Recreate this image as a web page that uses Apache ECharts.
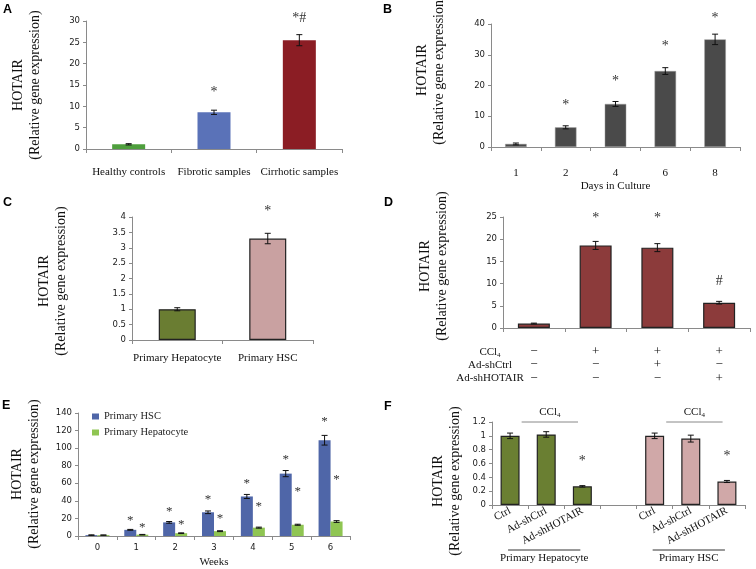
<!DOCTYPE html>
<html><head><meta charset="utf-8">
<script src="https://cdn.jsdelivr.net/npm/echarts@6/dist/echarts.min.js"></script>
<style>html,body{margin:0;padding:0;background:#fff}#c{width:756px;height:569px}</style>
</head><body><div id="c"></div>
<script>
// ---------- Panel A ----------
const catA = ['Healthy controls', 'Fibrotic samples', 'Cirrhotic samples'];
const valA = [1.1, 8.6, 25.5];
const errA = [0.15, 0.5, 1.3];
const sigA = ['', '*', '*#'];
const sigPosA = [null, 13.3, 30.6];
// ---------- Panel B ----------
const catB = ['1', '2', '4', '6', '8'];
const valB = [1.0, 6.4, 14.0, 24.7, 35.0];
const errB = [0.3, 0.5, 0.8, 1.1, 1.7];
const sigB = ['', '*', '*', '*', '*'];
const sigPosB = [null, 13.7, 21.5, 32.8, 41.9];
// ---------- Panel C ----------
const catC = ['Primary Hepatocyte', 'Primary HSC'];
const valC = [1.0, 3.3];
const errC = [0.05, 0.17];
const sigC = ['', '*'];
const sigPosC = [null, 4.2];
// ---------- Panel D ----------
const valD = [1.0, 18.6, 18.1, 5.7];
const errD = [0.1, 0.9, 0.9, 0.3];
const sigD = ['', '*', '*', '#'];
const sigPosD = [null, 24.7, 24.7, 10.4];
const rowCCl4 = ['−', '+', '+', '+'];
const rowShCtrl = ['−', '−', '+', '−'];
const rowShHOTAIR = ['−', '−', '−', '+'];
// ---------- Panel E ----------
const catE = ['0', '1', '2', '3', '4', '5', '6'];
const valEHSC = [1.0, 7.0, 15.5, 27.0, 45.0, 71.0, 109.0];
const errEHSC = [0.3, 0.5, 1.0, 1.5, 2.3, 3.5, 5.5];
const valEHep = [1.0, 1.5, 3.2, 5.5, 9.5, 12.8, 16.5];
const errEHep = [0.2, 0.3, 0.4, 0.5, 0.6, 0.6, 1.0];
const sigPosEHSC = [null, 17, 27.5, 41.5, 60, 86.5, 130.5];
const sigPosEHep = [null, 10, 13.5, 20, 33, 50, 64];
// ---------- Panel F ----------
const catF = ['Ctrl', 'Ad-shCtrl', 'Ad-shHOTAIR', '', 'Ctrl', 'Ad-shCtrl', 'Ad-shHOTAIR'];
const valFHep = [1.0, 1.02, 0.27];
const errFHep = [0.04, 0.04, 0.01];
const valFHSC = [1.0, 0.96, 0.34];
const errFHSC = [0.04, 0.05, 0.015];
const sigPosFHep = [null, null, 0.63];
const sigPosFHSC = [null, null, 0.70];

const SERIF = '"Liberation Serif", "Times New Roman", serif';
const SANS = '"DejaVu Sans", Verdana, sans-serif';
const AXC = '#8a8a8a';

const chart = echarts.init(document.getElementById('c'), null, {renderer: 'canvas'});

function xAx(gi, data, extra) {
  return Object.assign({
    type: 'category', gridIndex: gi, data: data,
    axisLine: {lineStyle: {color: AXC}},
    axisTick: {show: true, length: 4, lineStyle: {color: AXC}},
    axisLabel: {fontFamily: SERIF, fontSize: 11, color: '#111', margin: 14, interval: 0},
    splitLine: {show: false}
  }, extra || {});
}
function yAx(gi, max, interval) {
  return {
    type: 'value', gridIndex: gi, min: 0, max: max, interval: interval,
    axisLine: {show: true, lineStyle: {color: AXC}},
    axisTick: {show: true, length: 3, lineStyle: {color: AXC}},
    splitLine: {show: false},
    axisLabel: {fontFamily: SANS, fontSize: 8.5, color: '#1a1a1a', margin: 6}
  };
}
function colored(vals, colors) {
  return vals.map((v, i) => ({value: v, itemStyle: {color: colors[i]}}));
}
function errSeries(gi, vals, errs, offset, startIdx) {
  startIdx = startIdx || 0;
  return {
    type: 'custom', xAxisIndex: gi, yAxisIndex: gi, z: 5, silent: true,
    data: vals.map((v, i) => [i + startIdx, v, errs[i]]),
    renderItem: function (params, api) {
      const i = api.value(0), v = api.value(1), e = api.value(2);
      const top = api.coord([i, v + e]);
      const bot = api.coord([i, v - e]);
      const x = top[0] + offset;
      const cap = 3;
      const st = {stroke: '#111', lineWidth: 1};
      return {type: 'group', children: [
        {type: 'line', shape: {x1: x, y1: top[1], x2: x, y2: bot[1]}, style: st},
        {type: 'line', shape: {x1: x - cap, y1: top[1], x2: x + cap, y2: top[1]}, style: st},
        {type: 'line', shape: {x1: x - cap, y1: bot[1], x2: x + cap, y2: bot[1]}, style: st}
      ]};
    }
  };
}
function sigSeries(gi, pos, texts, offset, fontSize, startIdx) {
  startIdx = startIdx || 0;
  const data = [];
  pos.forEach((p, i) => { if (p != null) data.push([i + startIdx, p, i]); });
  return {
    type: 'custom', xAxisIndex: gi, yAxisIndex: gi, z: 6, silent: true, clip: false,
    data: data,
    renderItem: function (params, api) {
      const c = api.coord([api.value(0), api.value(1)]);
      const t = texts[api.value(2)];
      return {type: 'text', x: c[0] + offset, y: c[1], style: {
        text: t, font: fontSize + 'px ' + SERIF, fill: '#333',
        align: 'center', verticalAlign: 'middle', textAlign: 'center', textVerticalAlign: 'middle'
      }};
    }
  };
}
function yTitle(x, y) {
  return {type: 'text', x: x, y: y, rotation: Math.PI / 2, silent: true, style: {
    text: 'HOTAIR\n(Relative gene expression)', font: '14px ' + SERIF, lineHeight: 17, fill: '#111',
    align: 'center', verticalAlign: 'middle', textAlign: 'center', textVerticalAlign: 'middle'
  }};
}
function letter(t, x, y) {
  return {type: 'text', x: x, y: y, silent: true, style: {
    text: t, font: 'bold 12.5px "Liberation Sans", Arial, sans-serif', fill: '#000'
  }};
}

const starsE = sigPosEHSC.map(p => '*');
const starsF = ['', '', '*'];

const option = {
  animation: false,
  backgroundColor: '#fff',
  legend: {
    data: ['Primary HSC', 'Primary Hepatocyte'], orient: 'vertical', left: 87, top: 406,
    itemWidth: 7, itemHeight: 6, itemGap: 5, icon: 'rect',
    textStyle: {fontFamily: SERIF, fontSize: 10.5, color: '#222'}
  },
  grid: [
    {left: 86, top: 21, width: 256, height: 128},
    {left: 491, top: 24, width: 249, height: 123},
    {left: 132, top: 217, width: 181, height: 123},
    {left: 503, top: 217, width: 247, height: 111},
    {left: 78, top: 413, width: 272, height: 125},
    {left: 492, top: 422, width: 253, height: 83}
  ],
  xAxis: [
    xAx(0, catA, {axisLabel: {fontFamily: SERIF, fontSize: 11, color: '#111', margin: 18, interval: 0}}),
    xAx(1, catB, {name: 'Days in Culture', nameLocation: 'middle', nameGap: 34,
      nameTextStyle: {fontFamily: SERIF, fontSize: 11, color: '#111'},
      axisLabel: {fontFamily: SERIF, fontSize: 11, color: '#111', margin: 21, interval: 0}}),
    xAx(2, catC, {axisLabel: {fontFamily: SERIF, fontSize: 11, color: '#111', margin: 13, interval: 0}}),
    xAx(3, rowCCl4.map((s, i) => String(i)), {axisLabel: {
      fontFamily: SERIF, fontSize: 13, color: '#111', margin: 17, interval: 0, lineHeight: 13.3,
      formatter: (v, i) => rowCCl4[i] + '\n' + rowShCtrl[i] + '\n' + rowShHOTAIR[i]}}),
    xAx(4, catE, {name: 'Weeks', nameLocation: 'middle', nameGap: 21,
      nameTextStyle: {fontFamily: SERIF, fontSize: 11, color: '#111'},
      axisLabel: {fontFamily: SANS, fontSize: 8.5, color: '#1a1a1a', margin: 7, interval: 0}}),
    xAx(5, catF, {axisLabel: {fontFamily: SERIF, fontSize: 11, color: '#111', margin: 5, interval: 0, rotate: 28}})
  ],
  yAxis: [
    yAx(0, 30, 5), yAx(1, 40, 10), yAx(2, 4, 0.5), yAx(3, 25, 5), yAx(4, 140, 20), yAx(5, 1.2, 0.2)
  ],
  series: [
    // A
    {type: 'bar', xAxisIndex: 0, yAxisIndex: 0, barWidth: 33,
      data: colored(valA, ['#4e9f3d', '#5a72b8', '#8b1d24'])},
    errSeries(0, valA, errA, 0),
    sigSeries(0, sigPosA, sigA, 0, 14),
    // B
    {type: 'bar', xAxisIndex: 1, yAxisIndex: 1, barWidth: 21.5,
      itemStyle: {color: '#4a4a4a', borderColor: '#9a9a9a', borderWidth: 0.5}, data: valB},
    errSeries(1, valB, errB, 0),
    sigSeries(1, sigPosB, sigB, 0, 14),
    // C
    {type: 'bar', xAxisIndex: 2, yAxisIndex: 2, barWidth: 37,
      itemStyle: {borderColor: '#222', borderWidth: 1.2},
      data: colored(valC, ['#6a7d32', '#c9a1a1'])},
    errSeries(2, valC, errC, 0),
    sigSeries(2, sigPosC, sigC, 0, 14),
    // D
    {type: 'bar', xAxisIndex: 3, yAxisIndex: 3, barWidth: 32,
      itemStyle: {color: '#8c3b3b', borderColor: '#222', borderWidth: 1.2}, data: valD},
    errSeries(3, valD, errD, 0),
    sigSeries(3, sigPosD, sigD, 0, 14),
    // E
    {type: 'bar', name: 'Primary HSC', xAxisIndex: 4, yAxisIndex: 4, barWidth: 12, barGap: '0%',
      itemStyle: {color: '#4f66a8'}, data: valEHSC},
    {type: 'bar', name: 'Primary Hepatocyte', xAxisIndex: 4, yAxisIndex: 4, barWidth: 12, barGap: '0%',
      itemStyle: {color: '#8fc552'}, data: valEHep},
    errSeries(4, valEHSC, errEHSC, -6),
    errSeries(4, valEHep, errEHep, 6),
    sigSeries(4, sigPosEHSC, starsE, -6, 13),
    sigSeries(4, sigPosEHep, starsE, 6, 13),
    // F
    {type: 'bar', xAxisIndex: 5, yAxisIndex: 5, barWidth: 19, barGap: '-100%',
      itemStyle: {color: '#6a7f32', borderColor: '#222', borderWidth: 1.2},
      data: valFHep.concat(['-', '-', '-', '-'])},
    {type: 'bar', xAxisIndex: 5, yAxisIndex: 5, barWidth: 19, barGap: '-100%',
      itemStyle: {color: '#d0a8a8', borderColor: '#222', borderWidth: 1.2},
      data: ['-', '-', '-', '-'].concat(valFHSC)},
    errSeries(5, valFHep, errFHep, 0, 0),
    errSeries(5, valFHSC, errFHSC, 0, 4),
    sigSeries(5, sigPosFHep, starsF, 0, 14, 0),
    sigSeries(5, sigPosFHSC, starsF, 0, 14, 4)
  ],
  graphic: [
    letter('A', 3, 3), letter('B', 383, 3), letter('C', 3, 196), letter('D', 384, 196),
    letter('E', 2, 399), letter('F', 384, 400),
    yTitle(26.5, 85), yTitle(431, 70), yTitle(52.5, 281), yTitle(434, 266), yTitle(25.5, 474), yTitle(446.5, 481),
    {type: 'text', x: 490, y: 345, silent: true, style: {
      text: 'CCl{s|4}\nAd-shCtrl\nAd-shHOTAIR', font: '11px ' + SERIF, fill: '#111', lineHeight: 13.3,
      align: 'center', textAlign: 'center',
      rich: {s: {fontSize: 7, fontFamily: SERIF, verticalAlign: 'bottom', lineHeight: 13.3}}
    }}
  ]
};
chart.setOption(option);

// F bracket annotations positioned from the axis scale
function px(gi, i, v) { return chart.convertToPixel({gridIndex: gi}, [i, v]); }
const extra = [];
const w = px(5, 1, 0)[0] - px(5, 0, 0)[0];
[0, 4].forEach(function (s, k) {
  const c1 = px(5, s + 1, 1.2);
  const cx = c1[0] + 0.1 * w;
  extra.push({type: 'line', silent: true, shape: {x1: cx - 0.78 * w, y1: c1[1], x2: cx + 0.78 * w, y2: c1[1]},
    style: {stroke: '#888', lineWidth: 1}});
  extra.push({type: 'text', x: cx, y: c1[1] - 3, silent: true, style: {
    text: 'CCl{s|4}', font: '11px ' + SERIF, fill: '#111', align: 'center', verticalAlign: 'bottom',
    textAlign: 'center', textVerticalAlign: 'bottom',
    rich: {s: {fontSize: 7, fontFamily: SERIF, verticalAlign: 'bottom', lineHeight: 13}}}});
  const b = px(5, s + 1, 0);
  const gx = b[0] - 2;
  extra.push({type: 'line', silent: true, shape: {x1: gx - 1.0 * w, y1: 550, x2: gx + 1.0 * w, y2: 550},
    style: {stroke: '#333', lineWidth: 1}});
  extra.push({type: 'text', x: gx, y: 558, silent: true, style: {
    text: k === 0 ? 'Primary Hepatocyte' : 'Primary HSC', font: '11px ' + SERIF, fill: '#111',
    align: 'center', verticalAlign: 'middle', textAlign: 'center', textVerticalAlign: 'middle'}});
});
chart.setOption({graphic: option.graphic.concat(extra)});
</script>
</body></html>
